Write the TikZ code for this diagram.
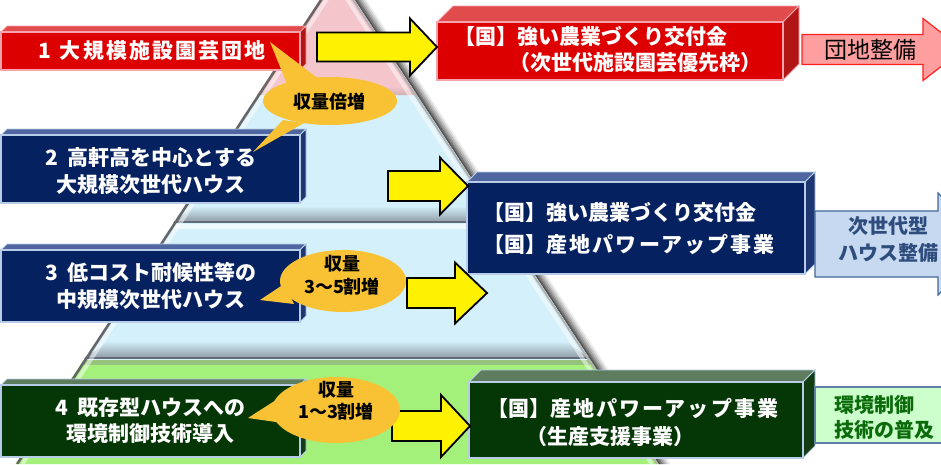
\documentclass[tikz,border=0pt]{standalone}
\usepackage{fontspec}
\setmainfont{Noto Sans CJK JP}
\usetikzlibrary{calc}
\definecolor{bred}{HTML}{DD0000}
\definecolor{bredtop}{HTML}{E24B4B}
\definecolor{bredside}{HTML}{B21515}
\definecolor{bredline}{HTML}{F4A4AA}
\definecolor{bnavy}{HTML}{06215F}
\definecolor{bnavytop}{HTML}{5066A0}
\definecolor{bnavyside}{HTML}{1E3672}
\definecolor{bline}{HTML}{B8CCE8}
\definecolor{bgreen}{HTML}{053605}
\definecolor{bgreentop}{HTML}{5E7C5E}
\definecolor{bgreenside}{HTML}{123C12}
\definecolor{lpink}{HTML}{F4C6CC}
\definecolor{lblue}{HTML}{D4F0FA}
\definecolor{lgreen}{HTML}{A3F07A}
\definecolor{bevgray}{HTML}{8E9BA6}
\definecolor{callc}{HTML}{F8C234}
\definecolor{l1fill}{HTML}{FF9E9E}
\definecolor{l1line}{HTML}{FF2020}
\definecolor{l2fill}{HTML}{C6D9F1}
\definecolor{l2line}{HTML}{41669A}
\definecolor{l2text}{HTML}{2E4C7C}
\definecolor{l3fill}{HTML}{CCFFCC}
\definecolor{l3line}{HTML}{6080A8}
\definecolor{l3text}{HTML}{0B6B0B}
\tikzset{
  redfront/.style={fill=bred,draw=bredline,line width=1.5pt},
  redtop/.style={fill=bredtop,draw=bredline,line width=0.8pt},
  redside/.style={fill=bredside,draw=bredline,line width=0.8pt},
  navyfront/.style={fill=bnavy,draw=bline,line width=1.5pt},
  navytop/.style={fill=bnavytop,draw=bline,line width=0.8pt},
  navyside/.style={fill=bnavyside,draw=bline,line width=0.8pt},
  greenfront/.style={fill=bgreen,draw=bline,line width=1.5pt},
  greentop/.style={fill=bgreentop,draw=bline,line width=0.8pt},
  greenside/.style={fill=bgreenside,draw=bline,line width=0.8pt},
  yarrow/.style={fill=yellow,draw=black,line width=1.8pt,line join=miter},
  pinkarrow/.style={fill=l1fill,draw=l1line,line width=1.2pt},
  bluearrow/.style={fill=l2fill,draw=l2line,line width=1.2pt},
  boxtext/.style={text=white,font=\bfseries\fontsize{21}{27}\selectfont,inner sep=0pt},
  ctext/.style={text=black,font=\bfseries\fontsize{18}{23}\selectfont,inner sep=0pt,align=center},
  callout/.style={fill=callc},
}
\newcommand\lsp[1]{{\addfontfeature{LetterSpace=10}#1}}
\newcommand\cube[6]{%
  \filldraw[#1top] (#2,#3) -- (#2+#6,#3-#6) -- (#4+#6,#3-#6) -- (#4,#3) -- cycle;
  \filldraw[#1side] (#4,#3) -- (#4+#6,#3-#6) -- (#4+#6,#5-#6) -- (#4,#5) -- cycle;
  \filldraw[#1front] (#2,#3) rectangle (#4,#5);}
\newcommand\barrow[7]{%
  \filldraw[#1] (#2,#5-#6) -- (#3,#5-#6) -- (#3,#5-#7) -- (#4,#5) -- (#3,#5+#7) -- (#3,#5+#6) -- (#2,#5+#6) -- cycle;}
\begin{document}
\begin{tikzpicture}[x=1pt,y=-1pt]
\useasboundingbox (0,0) rectangle (941,464);
\begin{scope}
\clip (0,0) rectangle (941,464);
\fill[white] (0,0) rectangle (941,464);
% ---------- pyramid ----------
\coordinate (apex) at (337,-27);
\coordinate (bl) at (15.4,464);
\coordinate (br) at (658.6,464);
\foreach \d/\o in {12/0.06,10/0.1,8/0.13,6/0.17,4/0.22,2/0.3}
  \fill[black,opacity=\o] (337,-27) -- (337+\d,-27) -- (658.6+\d,464) -- (658.6,464) -- cycle;
\begin{scope}
  \clip (apex) -- (br) -- (bl) -- cycle;
  \fill[lpink] (0,-30) rectangle (941,95);
  \fill[lblue] (0,95) rectangle (941,360);
  \fill[lgreen] (0,360) rectangle (941,470);
  % pink bevel
  \shade[top color=lpink,bottom color=lpink!70!gray] (250,95) -- (425,95) -- (412,86) -- (262,86) -- cycle;
  % layer 2 bevel
  \shade[top color=lblue,bottom color=bevgray] (174,222) -- (500,222) -- (480,206) -- (194,206) -- cycle;
  \draw[bevgray!70!black,line width=1.6pt] (170,222) -- (505,222);
  \fill[white,opacity=0.6] (170,224) rectangle (505,229);
  % layer 3 bevel
  \shade[top color=lblue,bottom color=bevgray] (84.8,358) -- (589.2,358) -- (566,341) -- (108,341) -- cycle;
  \draw[bevgray!70!black,line width=1.6pt] (80,358) -- (595,358);
  \fill[gray!40!lgreen] (80,359.5) rectangle (600,365);
  % inner highlight along edges
  \draw[white,opacity=0.5,line width=4pt] ($(apex)+(-7,0)$) -- ($(br)+(-7,0)$);
  \draw[white,opacity=0.5,line width=4pt] ($(apex)+(7,0)$) -- ($(bl)+(7,0)$);
  \draw[gray!80!black,line width=2.5pt] ($(apex)+(1.8,0)$) -- ($(bl)+(1.8,0)$);
  \draw[gray!60,line width=2pt] ($(apex)+(-1.5,0)$) -- ($(br)+(-1.5,0)$);
\end{scope}
% ---------- left boxes ----------
\cube{red}{1}{32}{300}{70}{6}
\cube{navy}{1}{135}{300}{203}{6}
\cube{navy}{1}{250}{300}{322}{6}
\cube{green}{1}{385}{300}{457}{6}
\node[boxtext] (t1) at (152,51) {1\hspace{9pt}\lsp{大規模施設園芸団地}};
\node[boxtext,align=center] (t2) at (151,171) {2\hspace{9pt}高軒高を中心とする\\大規模次世代ハウス};
\node[boxtext,align=center] (t3) at (151,285.5) {3\hspace{9pt}低コスト耐候性等の\\中規模次世代ハウス};
\node[boxtext,align=center,font=\bfseries\fontsize{21}{26}\selectfont] (t4) at (150.5,421) {4\hspace{9pt}既存型ハウスへの\\環境制御技術導入};
% ---------- right boxes ----------
\cube{red}{437}{22}{783}{80}{16}
\cube{navy}{467}{182}{805}{274}{10}
\cube{green}{469}{382}{803}{458}{12}
\node[boxtext,anchor=west] (r1a) at (454,36) {【国】強い農業づくり交付金};
\node[boxtext,anchor=west] (r1b) at (509,63) {（次世代施設園芸優先枠）};
\node[boxtext,anchor=west] (r2a) at (483.5,212) {【国】強い農業づくり交付金};
\node[boxtext,anchor=west] (r2b) at (483.5,244) {【国】\lsp{産地パワーアップ事業}};
\node[boxtext,anchor=west] (r3a) at (487,408) {【国】\lsp{産地パワーアップ事業}};
\node[boxtext,anchor=west] (r3b) at (526,437) {（生産支援事業）};
% ---------- yellow arrows ----------
\barrow{yarrow}{317}{410}{437}{47}{14.5}{28.5}
\barrow{yarrow}{388}{440}{468}{186}{15}{28.5}
\barrow{yarrow}{407}{455}{487}{293}{15}{30.5}
\barrow{yarrow}{392}{441}{470}{426}{15}{31}
% ---------- callouts ----------
\fill[callout] (330,101) ellipse [x radius=67pt,y radius=24pt];
\fill[callout] (270,42) -- (287,84) -- (320,80) -- cycle;
\fill[callout] (253,152) -- (283,120) -- (304,123) -- cycle;
\node[ctext] (c1) at (329,102) {収量倍増};
\fill[callout] (343,281) ellipse [x radius=63pt,y radius=31pt];
\fill[callout] (260,300) -- (284,284) -- (294,304) -- cycle;
\node[ctext] (c2) at (342,275) {収量\\3～5割増};
\fill[callout] (336,410) ellipse [x radius=64pt,y radius=33pt];
\fill[callout] (248,418) -- (276,400) -- (283,423) -- cycle;
\node[ctext,font=\bfseries\fontsize{18}{22}\selectfont] (c3) at (336,401) {収量\\1～3割増};
% ---------- right labels ----------
\barrow{pinkarrow}{802}{923}{963}{49.5}{15}{31}
\node[text=black,font=\fontsize{23}{26}\selectfont,inner sep=0pt] (l1) at (870,50) {団地整備};
\barrow{bluearrow}{815}{938}{990}{244}{33}{51}
\node[text=l2text,font=\bfseries\fontsize{20}{27}\selectfont,align=center,inner sep=0pt] (l2) at (888,239.5) {次世代型\\ハウス整備};
\filldraw[fill=l3fill,draw=l3line,line width=1.2pt] (815,387) rectangle (960,443);
\node[text=l3text,font=\bfseries\fontsize{20}{25}\selectfont,align=left,anchor=west,inner sep=0pt] (l3) at (834,417.5) {環境制御\\技術の普及};
\end{scope}
\end{tikzpicture}
\end{document}
